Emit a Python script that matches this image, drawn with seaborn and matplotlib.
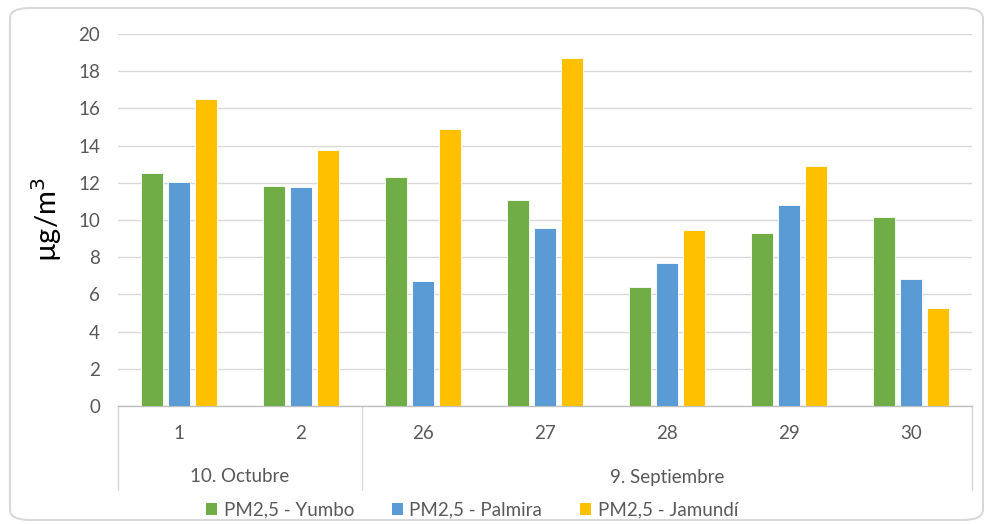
import matplotlib
matplotlib.use("Agg")
import matplotlib.pyplot as plt
from matplotlib.patches import FancyBboxPatch, Patch
import seaborn as sns
import pandas as pd

days = ["1", "2", "26", "27", "28", "29", "30"]
months = ["10. Octubre", "9. Septiembre"]
month_span = [2, 5]
series = ["PM2,5 - Yumbo", "PM2,5 - Palmira", "PM2,5 - Jamundí"]
yumbo = [12.55, 11.85, 12.3, 11.05, 6.4, 9.3, 10.15]
palmira = [12.05, 11.8, 6.7, 9.55, 7.7, 10.8, 6.85]
jamundi = [16.5, 13.75, 14.9, 18.7, 9.45, 12.9, 5.25]
colors = ["#70AD47", "#5B9BD5", "#FFC000"]

rows = []
for name, vals in zip(series, [yumbo, palmira, jamundi]):
    for d, v in zip(days, vals):
        rows.append({"day": d, "value": v, "series": name})
df = pd.DataFrame(rows)

sns.set_theme(style="white")
plt.rcParams["font.family"] = ["Lato", "DejaVu Sans"]

W, H = 984, 524
fig = plt.figure(figsize=(W / 100, H / 100), dpi=100)
ax_left, ax_right, ax_top, ax_bottom = 118, 972, 34, 406
ax = fig.add_axes([ax_left / W, (H - ax_bottom) / H, (ax_right - ax_left) / W, (ax_bottom - ax_top) / H])

sns.barplot(data=df, x="day", y="value", hue="series", order=days, hue_order=series,
            palette=colors, saturation=1, width=0.664, gap=0.19, edgecolor="white",
            linewidth=0.6, ax=ax, legend=False, zorder=3)

fs = 13.5
ax.set_ylim(0, 20)
ax.set_xlim(-0.5, len(days) - 0.5)
ax.set_yticks(range(0, 21, 2))
ax.yaxis.grid(True, color="#D9D9D9", linewidth=1.0, zorder=0)
ax.set_axisbelow(True)
for s in ["top", "right", "left"]:
    ax.spines[s].set_visible(False)
ax.spines["bottom"].set_color("#BFBFBF")
ax.spines["bottom"].set_linewidth(1.0)
ax.tick_params(axis="y", length=0, pad=13, labelsize=fs, labelcolor="#595959")
ax.tick_params(axis="x", length=0, pad=14, labelsize=fs, labelcolor="#595959")
ax.set_xlabel("")
ax.set_ylabel("µg/m$^3$", fontsize=21, color="black", labelpad=10)

# multi-level category axis lines
ax_h = ax_bottom - ax_top
depth = -(490 - ax_bottom) / ax_h
trans = ax.get_xaxis_transform()
bounds = [-0.5]
acc = -0.5
for n in month_span:
    acc += n
    bounds.append(acc)
for b in bounds:
    ax.plot([b, b], [0, depth], transform=trans, color="#D9D9D9", lw=1.0, clip_on=False)
month_y = -(477 - ax_bottom) / ax_h
for i, m in enumerate(months):
    cx = (bounds[i] + bounds[i + 1]) / 2
    ax.text(cx, month_y, m, transform=trans, ha="center", va="center",
            fontsize=fs, color="#595959")

handles = [Patch(facecolor=c, edgecolor="none", label=s) for c, s in zip(colors, series)]
fig.legend(handles=handles, loc="center", bbox_to_anchor=(472 / W, 1 - 510 / H), ncol=3,
           frameon=False, fontsize=fs, handlelength=0.6, handleheight=0.6,
           handletextpad=0.35, columnspacing=2.0, labelcolor="#595959")

border = FancyBboxPatch((10 / W, 1 - 520 / H), (983 - 10) / W, (520 - 8) / H,
                        boxstyle="round,pad=0,rounding_size=0.02", transform=fig.transFigure,
                        facecolor="none", edgecolor="#D9D9D9", linewidth=1.5)
fig.patches.append(border)

fig.savefig("out.png", dpi=100)
